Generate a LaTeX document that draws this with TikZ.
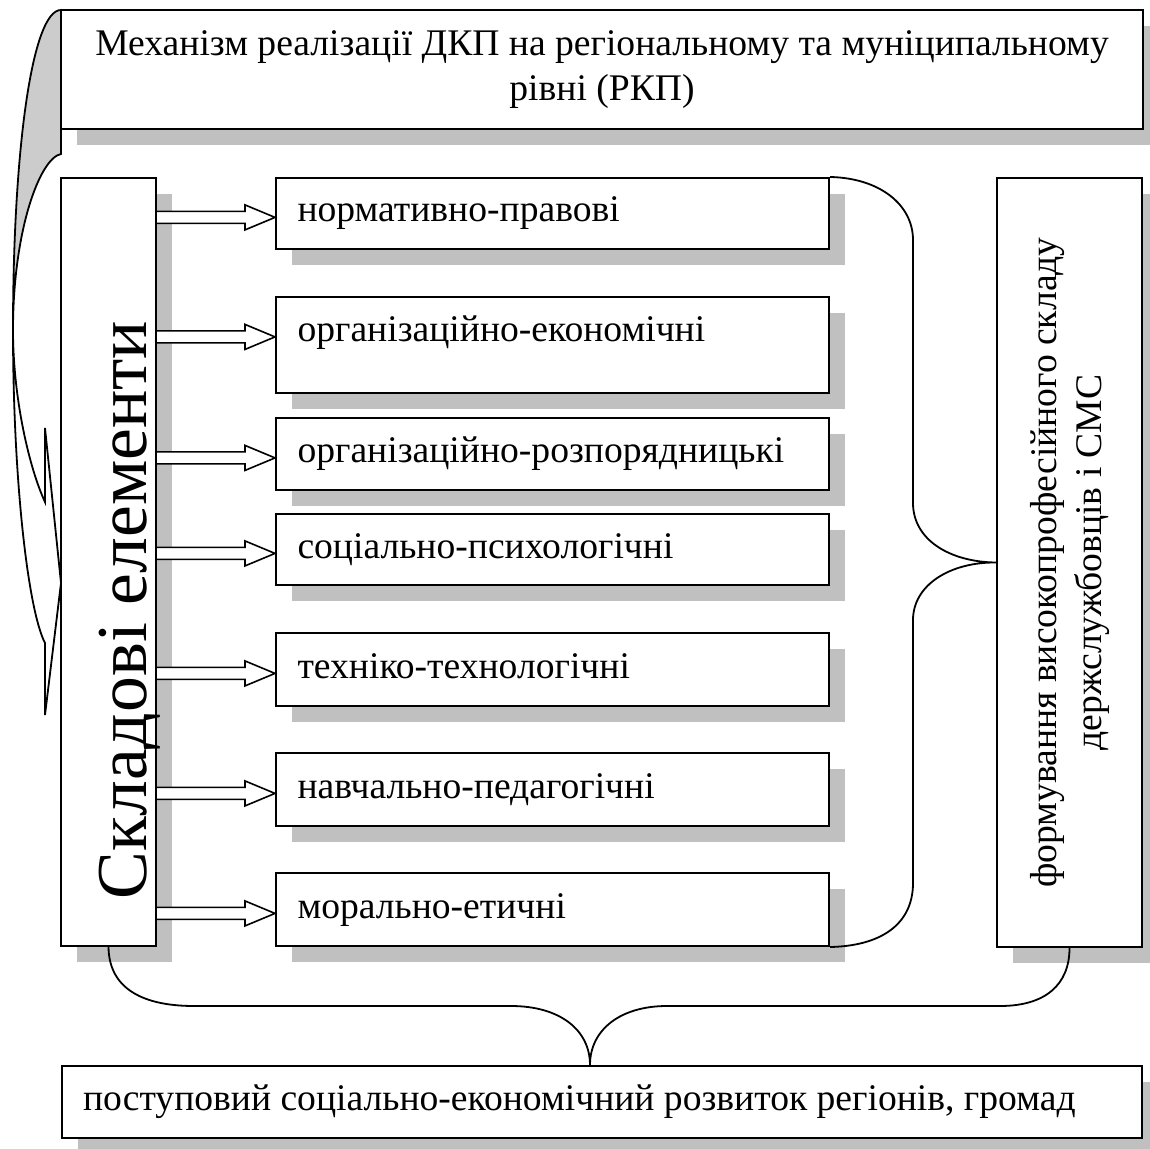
\documentclass[tikz,border=0pt]{standalone}
\usepackage{fontspec}
\setmainfont{Liberation Serif}
\usetikzlibrary{shadows,calc}
\definecolor{shadowgray}{RGB}{192,192,192}
\definecolor{arrowgray}{RGB}{204,204,204}

\tikzset{
	box/.style={draw, line width=1pt, fill=white, inner sep=0pt,
		drop shadow={shadow xshift=8pt, shadow yshift=-8pt, fill=shadowgray, opacity=1}},
	midbox/.style={box, minimum width=276.5pt, text width=255pt, align=flush left,
		inner xsep=10.5pt, text height=17pt, text depth=8.5pt},
}
% hollow block arrow from the east side of #1 to the mid west of #2
\newcommand{\bararrow}[2]{%
	\draw[line width=0.8pt, fill=white] let \p1=(#1.east), \p2=(#2.mid west) in
		(\x1,{\y2+3pt}) -- ({\x2-15pt},{\y2+3pt}) -- ({\x2-15pt},{\y2+6.25pt}) -- (\x2,\y2)
		-- ({\x2-15pt},{\y2-6.25pt}) -- ({\x2-15pt},{\y2-3pt}) -- (\x1,{\y2-3pt});}

\begin{document}
\begin{tikzpicture}[x=0.5pt, y=-0.5pt, line width=0.9pt, font=\fontsize{18.8pt}{22.5pt}\selectfont]
		\useasboundingbox (0,0) rectangle (1150,1149);
		\node[box, minimum width=541pt, minimum height=59.5pt, align=center] (top) at (602,69.5) {Механізм реалізації ДКП на регіональному та муніципальному\\рівні (РКП)};
		% curved arrow on the left
		\draw[fill=arrowgray] (61,10) .. controls (32,10) and (13,150) .. (13,330) .. controls (13,230) and (40,158) .. (61,154) -- cycle;
		\draw (13,330) .. controls (13,480) and (28,610) .. (45,643) -- (45,715) -- (61,583) -- (45,428) -- (45,502) .. controls (30,470) and (13,400) .. (13,330);
		\node[box, minimum width=47.5pt, minimum height=384pt] (skl) at (108.5,562) {};
		\node[rotate=90, anchor=base, font=\fontsize{35.8pt}{40pt}\selectfont] (skltext) at ([xshift=19pt,yshift=-24pt]skl.center) {Складові елементи};
		\node[midbox, minimum height=35.5pt] (n1) at (552.5,213.5) {нормативно-правові};
		\node[midbox, minimum height=48pt, text depth=20.5pt] (n2) at (552.5,345) {організаційно-економічні};
		\node[midbox, minimum height=36pt] (n3) at (552.5,454) {організаційно-розпорядницькі};
		\node[midbox, minimum height=35.5pt] (n4) at (552.5,549.5) {соціально-психологічні};
		\node[midbox, minimum height=36.5pt] (n5) at (552.5,669.5) {техніко-технологічні};
		\node[midbox, minimum height=36.5pt] (n6) at (552.5,789.5) {навчально-педагогічні};
		\node[midbox, minimum height=36.5pt] (n7) at (552.5,909.5) {морально-етичні};
		\node[box, minimum width=72.5pt, minimum height=384.5pt] (rgt) at (1069.5,562.5) {};
		\node[rotate=90, align=center] (rgttext) at (rgt.center) {формування високопрофесійного складу\\держслужбовців і СМС};
		\node[box, minimum width=540pt, minimum height=36pt, text width=519pt, inner xsep=10.5pt, align=flush left] (bot) at (602,1102) {поступовий соціально-економічний розвиток регіонів, громад};
		\foreach \b in {n1,n2,n3,n4,n5,n6,n7}
			{\bararrow{skl}{\b}}
		% braces
		\draw (n1.north east) .. controls (880,178) and (913,205) .. (913,240) -- (913,503) .. controls (913,540) and (950,562) .. (rgt.west) .. controls (950,562) and (913,585) .. (913,620) -- (913,883) .. controls (913,925) and (880,946) .. (n7.south east);
		\draw (skl.south) .. controls (109,990) and (145,1006) .. (194,1006) -- (511,1006) .. controls (560,1006) and (590,1030) .. ([xshift=-6pt]bot.north) .. controls (590,1030) and (620,1006) .. (667,1006) -- (1000,1006) .. controls (1045,1006) and (1069.5,985) .. (rgt.south);
\end{tikzpicture}
\end{document}
